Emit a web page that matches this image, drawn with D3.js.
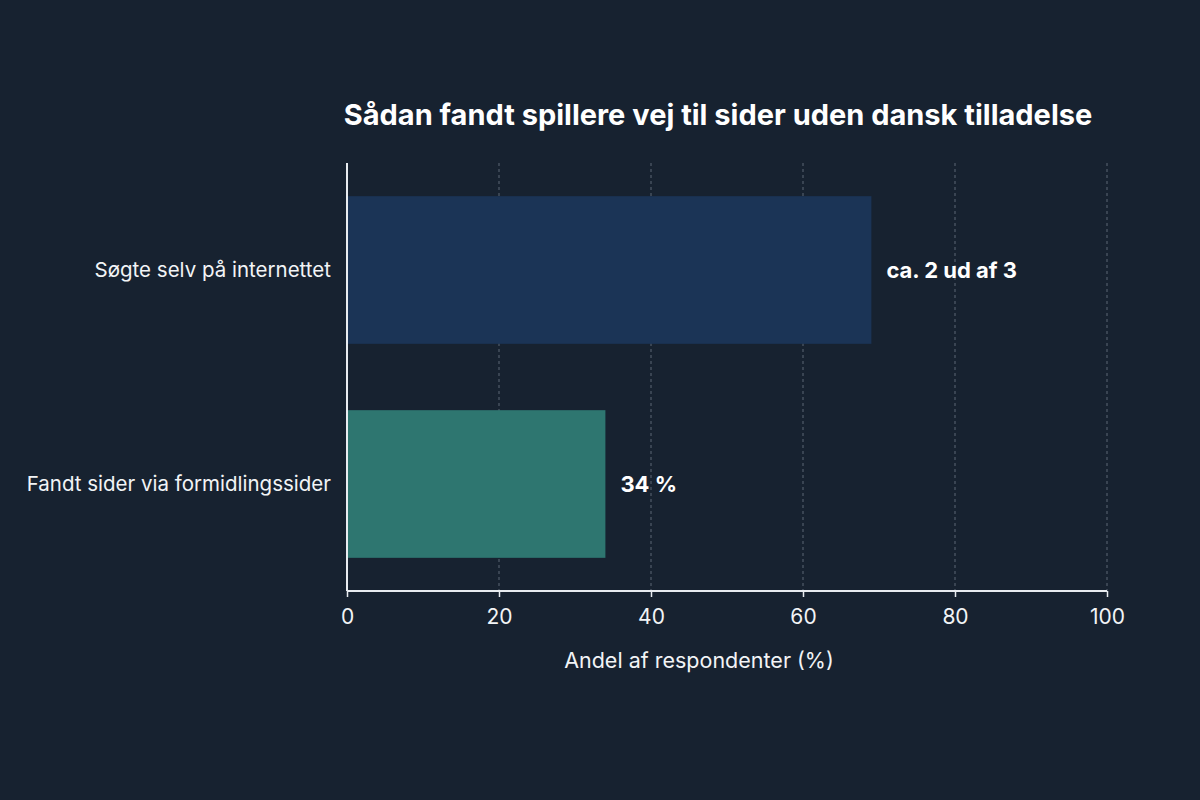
<!DOCTYPE html>
<html><head><meta charset="utf-8">
<script src="https://cdn.jsdelivr.net/npm/d3@7"></script>
<style>
html,body{margin:0;padding:0;background:#172230;}
svg{display:block;}
</style></head>
<body>
<svg id="chart" width="1200" height="800"></svg>
<script>
const categories = ["Søgte selv på internettet", "Fandt sider via formidlingssider"];
const values = [69, 34];
const valueLabels = ["ca. 2 ud af 3", "34 %"];
const barColors = ["#1b3456", "#2e7670"];
const xTicks = [0, 20, 40, 60, 80, 100];
const title = "Sådan fandt spillere vej til sider uden dansk tilladelse";
const xTitle = "Andel af respondenter (%)";

const svg = d3.select("#chart");
const font = "Inter, 'Noto Sans', sans-serif";
svg.append("rect").attr("width",1200).attr("height",800).attr("fill","#172230");

const m = {left:347, right:1107, top:163, bottom:591};
const x = d3.scaleLinear().domain([0,100]).range([m.left, m.right]);
const y = d3.scaleBand().domain(categories).range([m.top, m.bottom]).paddingInner(0.31).paddingOuter(0.155);

// gridlines
svg.append("g").selectAll("line").data(xTicks.filter(d=>d>0)).join("line")
  .attr("x1",d=>x(d)).attr("x2",d=>x(d)).attr("y1",m.top).attr("y2",m.bottom)
  .attr("stroke","#8a94a3").attr("stroke-width",1).attr("stroke-dasharray","3,3").attr("opacity",0.6);

// bars
svg.append("g").selectAll("rect").data(categories).join("rect")
  .attr("x", x(0)).attr("y", d=>y(d))
  .attr("width", (d,i)=>x(values[i])-x(0)).attr("height", y.bandwidth())
  .attr("fill", (d,i)=>barColors[i]);

// value labels
svg.append("g").selectAll("text").data(categories).join("text")
  .attr("x",(d,i)=>x(values[i])+15).attr("y",d=>y(d)+y.bandwidth()/2)
  .attr("dy","0.35em").attr("fill","#ffffff").attr("font-family",font)
  .attr("font-weight","700").attr("font-size",22)
  .text((d,i)=>valueLabels[i]);

// y axis
const yAxis = svg.append("g").attr("transform",`translate(${m.left},0)`)
  .call(d3.axisLeft(y).tickSize(0).tickPadding(16));
yAxis.select(".domain").attr("stroke","#e8ecf0").attr("stroke-width",2).attr("d",`M0,${m.top}V${m.bottom}`);
yAxis.selectAll("text").attr("fill","#f2f4f6").attr("font-family",font).attr("font-size",20.5).attr("font-weight","400");

// x axis
const xAxis = svg.append("g").attr("transform",`translate(0,${m.bottom})`)
  .call(d3.axisBottom(x).tickValues(xTicks).tickSize(6).tickPadding(12));
xAxis.select(".domain").attr("stroke","#e8ecf0").attr("stroke-width",2).attr("d",`M${m.left},0H${m.right}`);
xAxis.selectAll(".tick line").attr("stroke","#e8ecf0").attr("stroke-width",1.5);
xAxis.selectAll("text").attr("fill","#f2f4f6").attr("font-family",font).attr("font-size",21);

// axis title
svg.append("text").attr("x",699).attr("y",668).attr("text-anchor","middle")
  .attr("fill","#f2f4f6").attr("font-family",font).attr("font-size",21.5).text(xTitle);

// title
svg.append("text").attr("x",718).attr("y",125).attr("text-anchor","middle")
  .attr("fill","#ffffff").attr("font-family",font).attr("font-weight","700").attr("font-size",29).text(title);
</script>
</body></html>
